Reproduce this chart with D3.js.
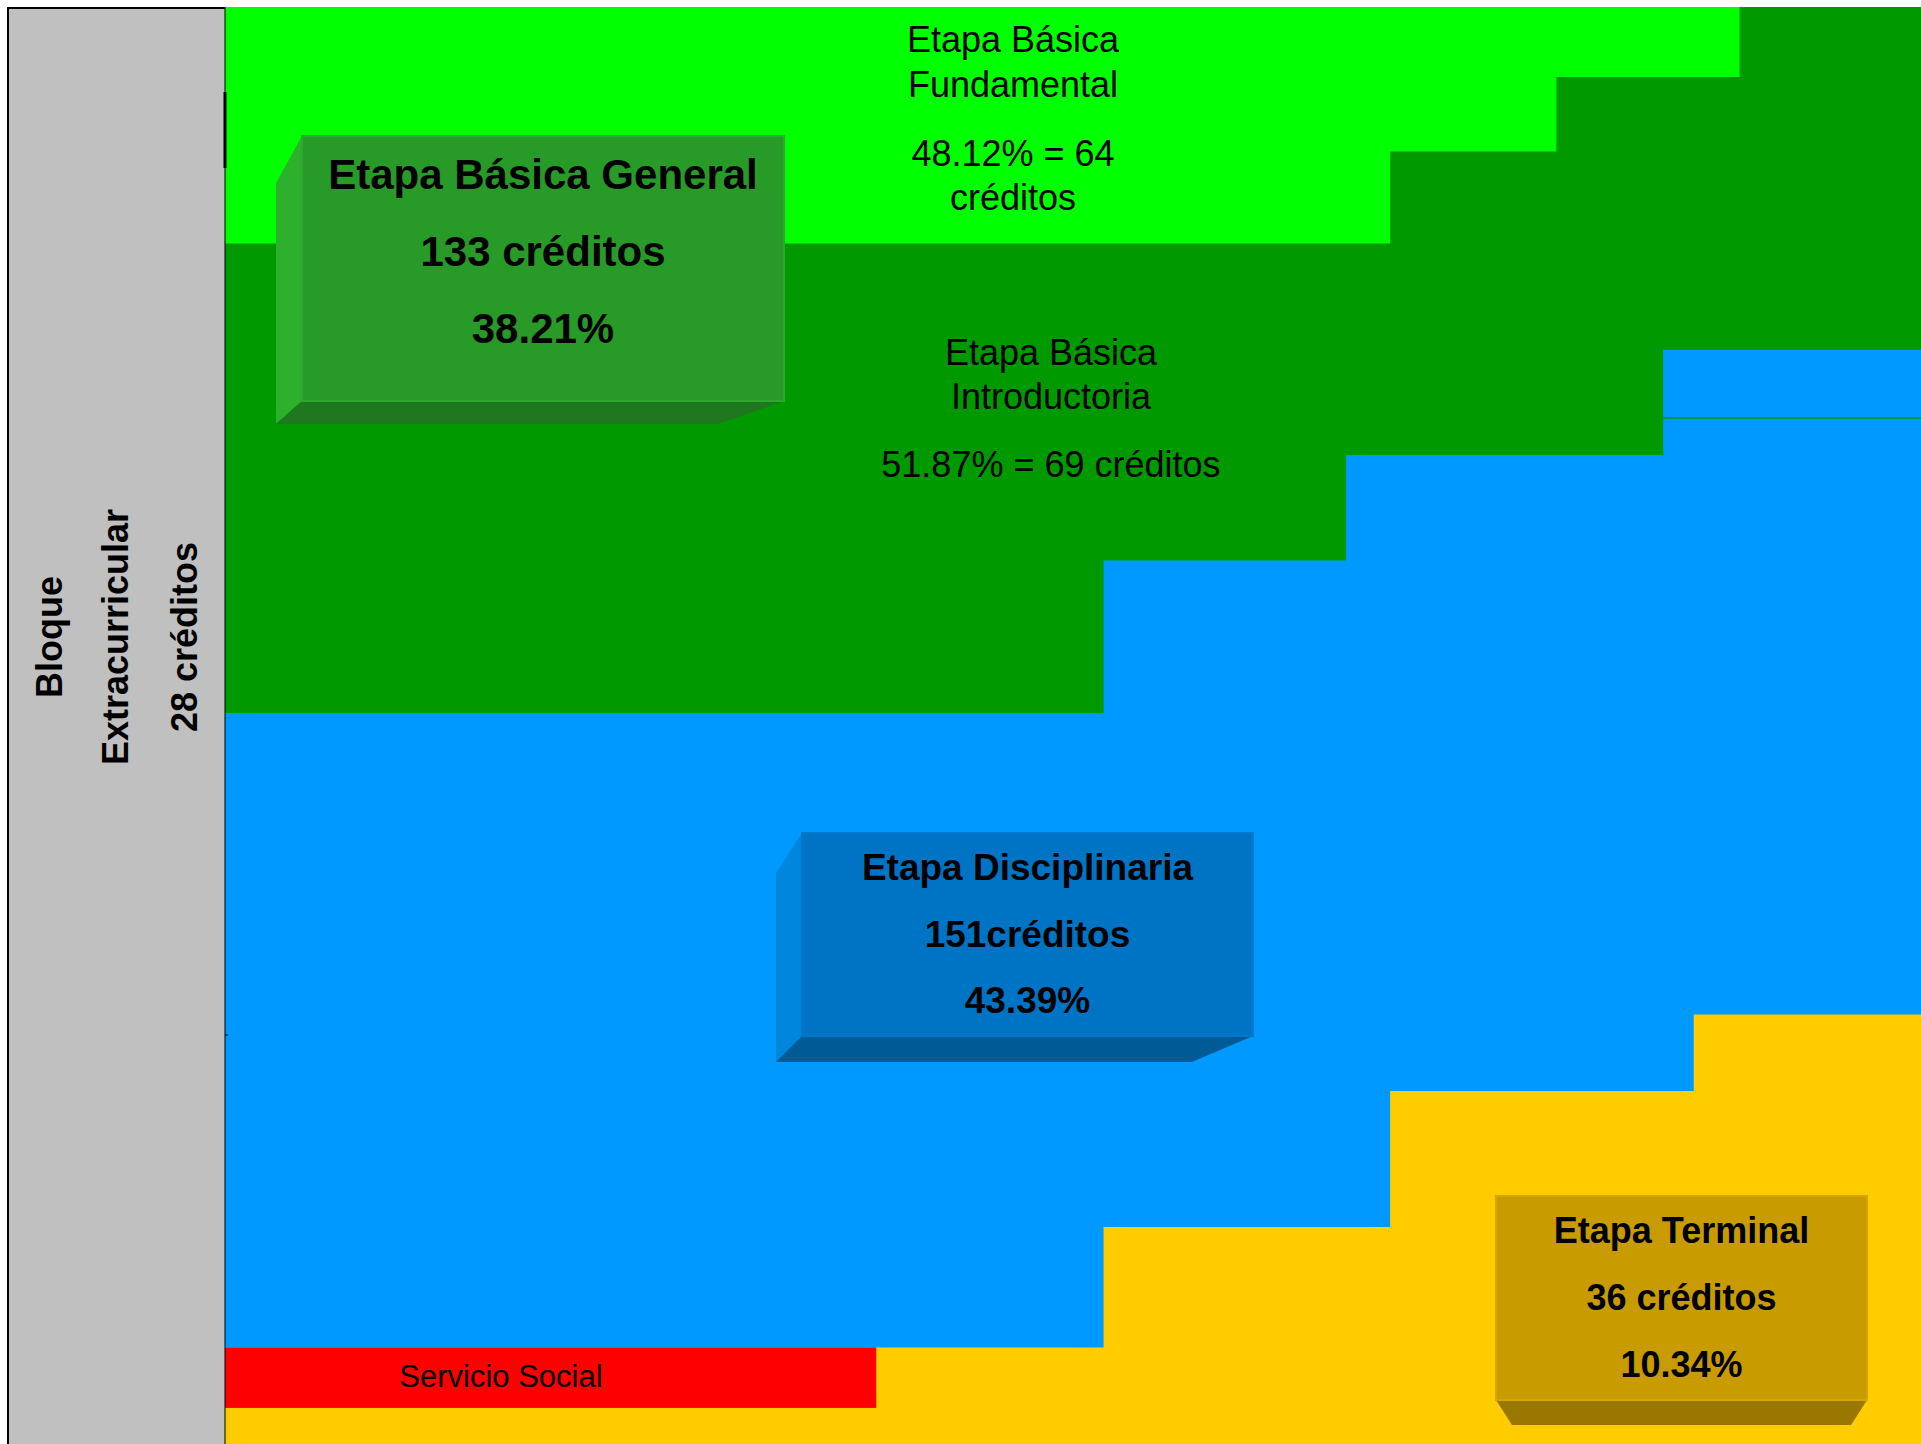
<!DOCTYPE html>
<html>
<head>
<meta charset="utf-8">
<script src="https://cdn.jsdelivr.net/npm/d3@7"></script>
<style>
  body { margin: 0; background: #fff; }
  svg { display: block; }
</style>
</head>
<body>
<svg id="chart"></svg>
<script>
// ---- Data ----
// each stage floor is a step line: where a step starts (% of width) and its level (% of height)
const fundamentalSteps = [0, 68.7, 78.5, 89.3];
const fundamentalFloor = [83.54, 89.94, 95.13, 100];
const introSteps = [0, 51.8, 66.1, 84.8];
const introFloor = [50.87, 61.48, 68.82, 76.13];
const disciplinariaSteps = [0, 51.8, 68.7, 86.6];
const disciplinariaFloor = [6.72, 15.1, 24.57, 29.89];
const servicioSpan = [0, 38.4];
const servicioBand = [2.51, 6.72];
const seamSpan = [84.8, 100];
const seamLevel = 71.4;

const fundamentalText = ["Etapa Básica", "Fundamental", "48.12% = 64", "créditos"];
const introText = ["Etapa Básica", "Introductoria", "51.87% = 69 créditos"];
const servicioText = "Servicio Social";
const sideText = ["Bloque", "Extracurricular", "28 créditos"];
const boxTitles = ["Etapa Básica General", "Etapa Disciplinaria", "Etapa Terminal"];
const boxCredits = ["133 créditos", "151créditos", "36 créditos"];
const boxShares = ["38.21%", "43.39%", "10.34%"];

// ---- Config ----
const width = 1921, height = 1444;
const plotLeft = 225, plotTop = 7;
const font = "'Liberation Sans', Arial, sans-serif";
const colors = {
  yellow: "#FFCC00", blue: "#0099FF", dark: "#009900", light: "#00FF00",
  red: "#FF0000", grey: "#C0C0C0"
};

// box geometry in scale units, bevel sizes in px
const boxLayout = [
  { x: [4.54, 32.96], y: [91.02, 72.58], side: 26, slant: 47, depth: 23, bl: -26, br: -66,
    front: "#289A28", edge: "#2EA82E", left: "#2DB12D", bottom: "#1F771F", size: 42, lines: [53, 130, 207] },
  { x: [34.02, 60.61], y: [42.52, 28.39], side: 26, slant: 40, depth: 26, bl: -26, br: -61,
    front: "#0074C4", edge: "#0078CC", left: "#0086DC", bottom: "#005A96", size: 37, lines: [47, 114, 180] },
  { x: [74.94, 96.82], y: [17.26, 3.06], side: 0, slant: 0, depth: 25, bl: 16, br: -16,
    front: "#C89C00", edge: "#D4A600", left: "none", bottom: "#9A7800", size: 36, lines: [47, 114, 181] }
];

const svg = d3.select("#chart").attr("width", width).attr("height", height);

const x = d3.scaleLinear().domain([0, 100]).range([plotLeft, width]);
const y = d3.scaleLinear().domain([0, 100]).range([height, plotTop]);

// ---- Helpers ----
function stepPoints(steps, levels) {
  const pts = steps.map((s, i) => [s, levels[i]]);
  pts.push([100, levels[levels.length - 1]]);
  return pts;
}

const area = d3.area()
  .curve(d3.curveStepAfter)
  .x(d => x(d[0]))
  .y0(d => y(d[1]))
  .y1(y(100));

// ---- Layers (painted bottom up) ----
svg.append("rect")
  .attr("x", x(0)).attr("y", y(100))
  .attr("width", x(100) - x(0)).attr("height", y(0) - y(100))
  .attr("fill", colors.yellow);

const layers = [
  { pts: stepPoints(disciplinariaSteps, disciplinariaFloor), fill: colors.blue },
  { pts: stepPoints(introSteps, introFloor), fill: colors.dark },
  { pts: stepPoints(fundamentalSteps, fundamentalFloor), fill: colors.light }
];
svg.selectAll("path.layer").data(layers).enter().append("path")
  .attr("class", "layer")
  .attr("d", d => area(d.pts))
  .attr("fill", d => d.fill);

svg.append("line")
  .attr("x1", x(seamSpan[0])).attr("x2", x(seamSpan[1]))
  .attr("y1", y(seamLevel)).attr("y2", y(seamLevel))
  .attr("stroke", colors.dark).attr("stroke-width", 1.5);

svg.append("rect")
  .attr("x", x(servicioSpan[0])).attr("y", y(servicioBand[1]))
  .attr("width", x(servicioSpan[1]) - x(servicioSpan[0]))
  .attr("height", y(servicioBand[0]) - y(servicioBand[1]))
  .attr("fill", colors.red);

// ---- Side block ----
svg.append("rect")
  .attr("x", 7).attr("y", plotTop).attr("width", plotLeft - 7).attr("height", height - plotTop)
  .attr("fill", colors.grey);
svg.append("path")
  .attr("d", `M8,${height} V8 H${plotLeft}`)
  .attr("fill", "none").attr("stroke", "#000").attr("stroke-width", 2);
svg.append("line")
  .attr("x1", plotLeft).attr("x2", plotLeft).attr("y1", plotTop).attr("y2", height)
  .attr("stroke", "#000").attr("stroke-width", 1);
svg.append("line")
  .attr("x1", plotLeft).attr("x2", plotLeft).attr("y1", 92).attr("y2", 168)
  .attr("stroke", "#000").attr("stroke-width", 3);
svg.append("line")
  .attr("x1", plotLeft).attr("x2", plotLeft + 3).attr("y1", 1035).attr("y2", 1035)
  .attr("stroke", "#000").attr("stroke-width", 1);

const sideBaselines = [62, 128, 197];
sideText.forEach((t, i) => {
  svg.append("text")
    .attr("transform", `translate(${sideBaselines[i]},637) rotate(-90)`)
    .attr("text-anchor", "middle")
    .attr("font-family", font).attr("font-weight", "bold").attr("font-size", 36)
    .attr("fill", "#000")
    .text(t);
});

// ---- Area labels ----
function textBlock(lines, cx, by, offsets, size, weight) {
  const g = svg.append("g");
  lines.forEach((t, i) => {
    g.append("text")
      .attr("x", cx).attr("y", by + offsets[i])
      .attr("text-anchor", "middle")
      .attr("font-family", font).attr("font-size", size).attr("font-weight", weight)
      .attr("fill", "#000")
      .text(t);
  });
}
textBlock(fundamentalText, x(46.46), y(96.87), [0, 45, 114, 158], 36, "normal");
textBlock(introText, x(48.7), y(75.09), [0, 44, 112], 36, "normal");
textBlock([servicioText], x(16.27), y(3.97), [0], 31, "normal");

// ---- 3D boxes ----
boxLayout.forEach((b, i) => {
  const x0 = x(b.x[0]), x1 = x(b.x[1]), t = y(b.y[0]), bot = y(b.y[1]);
  const g = svg.append("g");
  if (b.side > 0) {
    g.append("polygon")
      .attr("points", [[x0 - b.side, t + b.slant], [x0, t], [x0, bot], [x0 - b.side, bot + b.depth]].join(" "))
      .attr("fill", b.left);
  }
  g.append("polygon")
    .attr("points", [[x0 + b.bl, bot + b.depth], [x0, bot], [x1, bot], [x1 + b.br, bot + b.depth]].join(" "))
    .attr("fill", b.bottom);
  g.append("rect")
    .attr("x", x0).attr("y", t).attr("width", x1 - x0).attr("height", bot - t)
    .attr("fill", b.front).attr("stroke", b.edge).attr("stroke-width", 2);
  textBlock([boxTitles[i], boxCredits[i], boxShares[i]], (x0 + x1) / 2, t, b.lines, b.size, "bold");
});
</script>
</body>
</html>
